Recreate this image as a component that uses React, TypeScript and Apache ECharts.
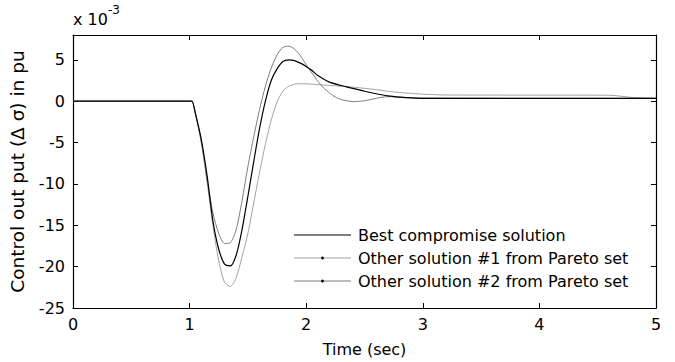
import React, { useEffect, useRef } from "react";
import * as echarts from "echarts";

const timeBest = [0, 1.0, 1.02, 1.05, 1.1, 1.15, 1.2, 1.25, 1.3, 1.35, 1.4, 1.45, 1.5, 1.55, 1.6, 1.65, 1.7, 1.75, 1.8, 1.85, 1.9, 1.95, 2.0, 2.05, 2.1, 2.2, 2.3, 2.4, 2.5, 2.6, 2.7, 2.8, 2.9, 3.0, 4.0, 5.0];
const valBest = [0, 0, 0, -1.5, -4.6, -9.0, -14.5, -17.9, -19.7, -19.9, -18.6, -15.5, -11.5, -7.3, -3.3, 0.0, 2.5, 3.9, 4.8, 5.0, 4.9, 4.6, 4.2, 3.7, 3.1, 2.3, 1.9, 1.55, 1.2, 0.9, 0.65, 0.5, 0.4, 0.35, 0.35, 0.35];

const timeSol1 = [0, 1.0, 1.02, 1.05, 1.1, 1.15, 1.2, 1.25, 1.3, 1.35, 1.4, 1.45, 1.5, 1.55, 1.6, 1.65, 1.7, 1.75, 1.8, 1.85, 1.9, 1.95, 2.0, 2.1, 2.2, 2.3, 2.4, 2.5, 2.6, 2.7, 2.8, 2.9, 3.0, 3.2, 4.6, 4.8, 5.0];
const valSol1 = [0, 0, 0, -1.5, -4.8, -9.8, -15.0, -19.3, -21.9, -22.4, -21.3, -18.8, -16.0, -12.3, -8.6, -5.2, -2.3, -0.1, 1.2, 1.8, 2.05, 2.1, 2.1, 2.0, 1.9, 1.8, 1.7, 1.55, 1.4, 1.2, 1.05, 0.95, 0.85, 0.75, 0.72, 0.45, 0.35];

const timeSol2 = [0, 1.0, 1.02, 1.05, 1.1, 1.15, 1.2, 1.25, 1.3, 1.35, 1.4, 1.45, 1.5, 1.55, 1.6, 1.65, 1.7, 1.75, 1.8, 1.85, 1.9, 1.95, 2.0, 2.05, 2.1, 2.15, 2.2, 2.25, 2.3, 2.4, 2.5, 2.6, 2.7, 2.8, 2.9, 3.0, 4.0, 5.0];
const valSol2 = [0, 0, 0, -1.5, -5.0, -9.5, -13.5, -16.0, -17.2, -17.1, -15.5, -12.0, -7.9, -4.3, -1.0, 1.8, 4.0, 5.6, 6.5, 6.65, 6.3, 5.5, 4.4, 3.4, 2.4, 1.6, 1.0, 0.5, 0.2, -0.05, 0.05, 0.35, 0.55, 0.5, 0.42, 0.38, 0.35, 0.35];

const xTicks = { min: 0, max: 5, interval: 1 };
const yTicks = { min: -25, max: 8, interval: 5 };

const seriesNames = [
  "Best compromise solution",
  "Other solution #1 from Pareto set",
  "Other solution #2 from Pareto set",
];
const seriesColors = ["#000000", "#a2a2a2", "#7c7c7c"];
const seriesHasDot = [false, true, true];

const FONT = "'DejaVu Sans', 'Liberation Sans', Arial, sans-serif";
const FS = 16;

function pairs(t: number[], v: number[]) {
  return t.map((x, i) => [x, v[i]]);
}

export default function App() {
  const ref = useRef<HTMLDivElement>(null);
  useEffect(() => {
    if (!ref.current) return;
    const chart = echarts.init(ref.current, undefined, { renderer: "svg" });
    const axisCommon = {
      axisLine: { show: true, onZero: false, lineStyle: { color: "#000", width: 1.2 } },
      axisTick: { show: true, inside: true, length: 5, lineStyle: { color: "#000" } },
      splitLine: { show: false },
    };

    const legendX0 = 294;
    const legendX1 = 351;
    const legendTextX = 358;
    const legendY0 = 235;
    const legendRow = 23;
    const legendGraphics: any[] = [];
    seriesNames.forEach((name, i) => {
      const y = legendY0 + i * legendRow;
      legendGraphics.push({
        type: "line",
        shape: { x1: legendX0, y1: y, x2: legendX1, y2: y },
        style: { stroke: seriesColors[i], lineWidth: i === 0 ? 1.2 : 1 },
      });
      if (seriesHasDot[i]) {
        legendGraphics.push({
          type: "circle",
          shape: { cx: (legendX0 + legendX1) / 2, cy: y, r: 1.4 },
          style: { fill: "#000" },
        });
      }
      legendGraphics.push({
        type: "text",
        x: legendTextX,
        y: y,
        style: {
          text: name,
          fontSize: FS,
          fontFamily: FONT,
          fill: "#000",
          verticalAlign: "middle",
          align: "left",
        },
      });
    });

    chart.setOption({
      animation: false,
      backgroundColor: "#fff",
      textStyle: { fontFamily: FONT },
      grid: { left: 73, right: 19, top: 35, bottom: 52, containLabel: false },
      xAxis: [
        {
          type: "value",
          ...xTicks,
          position: "bottom",
          ...axisCommon,
          axisLabel: { color: "#000", fontSize: FS, fontFamily: FONT, margin: 8 },
          name: "Time (sec)",
          nameLocation: "middle",
          nameGap: 33,
          nameTextStyle: { color: "#000", fontSize: FS, fontFamily: FONT },
        },
        {
          type: "value",
          ...xTicks,
          position: "top",
          ...axisCommon,
          axisLabel: { show: false },
        },
      ],
      yAxis: [
        {
          type: "value",
          ...yTicks,
          position: "left",
          ...axisCommon,
          axisLabel: { color: "#000", fontSize: FS, fontFamily: FONT, margin: 8, showMaxLabel: false },
          name: "Control out put (\u0394 \u03c3) in pu",
          nameLocation: "middle",
          nameGap: 46,
          nameTextStyle: { color: "#000", fontSize: 18.5, fontFamily: FONT },
        },
        {
          type: "value",
          ...yTicks,
          position: "right",
          ...axisCommon,
          axisLabel: { show: false },
        },
      ],
      graphic: [
        {
          type: "text",
          x: 73,
          y: 27,
          style: {
            text: "x 10",
            fontSize: FS,
            fontFamily: FONT,
            fill: "#000",
            verticalAlign: "bottom",
          },
        },
        {
          type: "text",
          x: 108,
          y: 16,
          style: {
            text: "-3",
            fontSize: 12,
            fontFamily: FONT,
            fill: "#000",
            verticalAlign: "bottom",
          },
        },
        ...legendGraphics,
      ],
      series: [
        {
          name: seriesNames[0],
          type: "line",
          data: pairs(timeBest, valBest),
          smooth: 0.25,
          symbol: "none",
          lineStyle: { color: seriesColors[0], width: 1.2 },
          z: 3,
        },
        {
          name: seriesNames[1],
          type: "line",
          data: pairs(timeSol1, valSol1),
          smooth: 0.25,
          symbol: "none",
          lineStyle: { color: seriesColors[1], width: 1 },
          z: 2,
        },
        {
          name: seriesNames[2],
          type: "line",
          data: pairs(timeSol2, valSol2),
          smooth: 0.25,
          symbol: "none",
          lineStyle: { color: seriesColors[2], width: 1 },
          z: 2,
        },
      ],
    });
    return () => chart.dispose();
  }, []);
  return <div ref={ref} style={{ width: 675, height: 362, position: "absolute", left: 0, top: 0 }} />;
}
